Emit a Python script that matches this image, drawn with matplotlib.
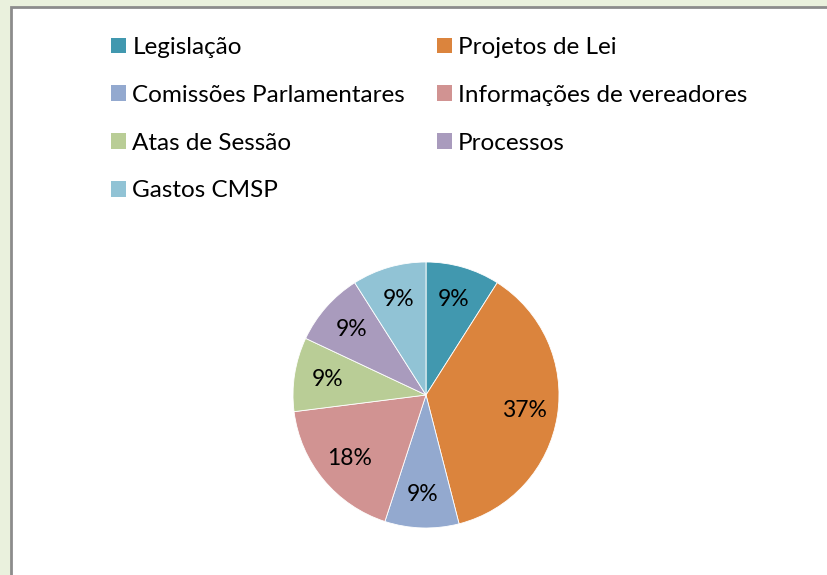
import matplotlib.pyplot as plt
from matplotlib.patches import Rectangle, Patch

categories = ["Legislação", "Projetos de Lei", "Comissões Parlamentares",
              "Informações de vereadores", "Atas de Sessão", "Processos", "Gastos CMSP"]
shares = [9, 37, 9, 18, 9, 9, 9]
colors = ["#4198AF", "#DB843D", "#93A9CF", "#D19392", "#B9CD96", "#A99BBD", "#91C3D5"]

plt.rcParams['font.family'] = ['Lato', 'DejaVu Sans']

W, H = 828, 575
fig = plt.figure(figsize=(W / 100, H / 100), dpi=100)
fig.patch.set_facecolor("#EAF1DD")

# white chart area, cropped on the right and bottom
fig.patches.append(Rectangle((10.5 / W, -0.1), 1.2, (H - 7) / H + 0.1,
                             transform=fig.transFigure, facecolor="white",
                             edgecolor="#8C8C8C", linewidth=2, zorder=-5))

cx, cy, r = 426, 395, 133
s = 2.1 * r
ax = fig.add_axes([(cx - s / 2) / W, (H - cy - s / 2) / H, s / W, s / H])
ax.set_zorder(2)
ax.pie(shares, colors=colors, startangle=90, counterclock=False,
       autopct=lambda p: f"{p:.0f}%", pctdistance=0.75,
       wedgeprops=dict(edgecolor="white", linewidth=0.6),
       textprops=dict(fontsize=16.5, color="black"))
ax.set_xlim(-1.05, 1.05)
ax.set_ylim(-1.05, 1.05)
ax.set_aspect("equal")
ax.axis("off")

# legend fills column-wise, so reorder to read row by row
order = [0, 2, 4, 6, 1, 3, 5]
handles = [Patch(facecolor=colors[i], edgecolor="none") for i in order]
labels = [categories[i] for i in order]
fig.legend(handles, labels, loc="upper left", bbox_to_anchor=(99 / W, 1 - 25 / H),
           ncol=2, frameon=False, fontsize=17.5, handlelength=0.62, handleheight=0.62,
           handletextpad=0.25, labelspacing=1.1, columnspacing=1.3, borderpad=0)

fig.savefig("out.png", dpi=100, facecolor=fig.get_facecolor())
